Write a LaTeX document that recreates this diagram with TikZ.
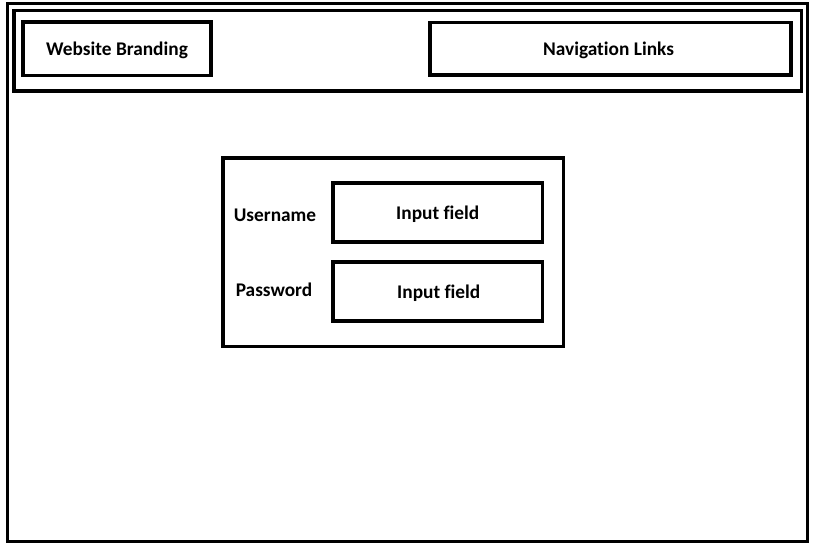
\documentclass[tikz,border=0pt]{standalone}
\usepackage{fontspec}
\setmainfont{Carlito}[Ligatures=NoCommon]
\usetikzlibrary{calc}
\tikzset{
  frame/.style={draw=black, line width=2.3pt},
  label/.style={font=\bfseries\fontsize{14.5}{17}\selectfont, inner sep=0pt, yshift=-1pt}
}

\begin{document}
\begin{tikzpicture}[x=0.75pt, y=-0.75pt]
  \useasboundingbox (0,0) rectangle (813,551);
  % page and header
  \coordinate (PA) at (7.5,3.5);
  \coordinate (PB) at (807.5,541.5);
  \coordinate (HA) at (14,10.5);
  \coordinate (HB) at (801.5,91);
  \draw[frame] (PA) rectangle (PB);
  \draw[frame] (HA) rectangle (HB);
  % branding and links
  \coordinate (BA) at (23,22);
  \coordinate (BB) at (211,75.5);
  \coordinate (NA) at (430,22.5);
  \coordinate (NB) at (791,75);
  \draw[frame] (BA) rectangle (BB);
  \draw[frame] (NA) rectangle (NB);
  \node[label] (brand) at ($(BA)!.5!(BB)$) {Website Branding};
  \node[label] (links) at ($(NA)!.5!(NB)+(-2,0)$) {Navigation Links};
  % login form
  \begin{scope}[shift={(223,158)}]
    \coordinate (LA) at (0,0);
    \coordinate (LB) at (340.5,188.5);
    \coordinate (UA) at (110,25);
    \coordinate (UB) at (319.5,84);
    \coordinate (WA) at (110,104);
    \coordinate (WB) at (319.5,163);
    \draw[frame] (LA) rectangle (LB);
    \draw[frame] (UA) rectangle (UB);
    \draw[frame] (WA) rectangle (WB);
    \node[label] (user) at (52,56) {Username};
    \node[label] (pass) at (51,130.5) {Password};
    \node[label] (userin) at ($(UA)!.5!(UB)$) {Input field};
    \node[label] (passin) at ($(WA)!.5!(WB)+(1,0)$) {Input field};
  \end{scope}
\end{tikzpicture}
\end{document}
